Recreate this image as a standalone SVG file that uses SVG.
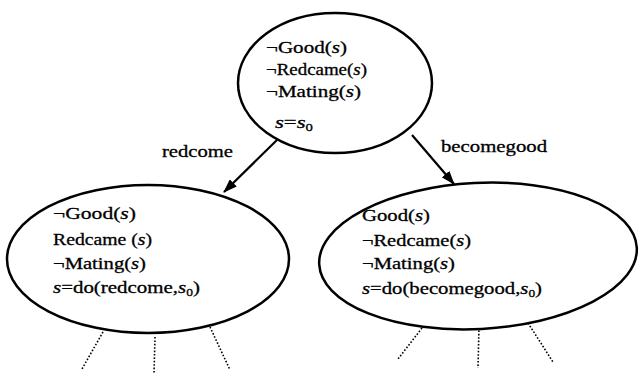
<svg xmlns="http://www.w3.org/2000/svg" width="639" height="375" viewBox="0 0 639 375">
<style>
.node{fill:#fff;stroke:#000;stroke-width:2.5}
.t{font-family:'Liberation Serif','Times New Roman','DejaVu Serif',serif;font-size:17px;fill:#000;stroke:#000;stroke-width:0.3}
.i{font-style:italic}
.sub{font-size:11px}
.edge{stroke:#000;stroke-width:2.2;fill:none}
.dot{stroke:#000;stroke-width:1.6;stroke-dasharray:1.6 1.8;fill:none}
</style>
<defs>
<marker id="ah" viewBox="0 0 14 10" refX="13" refY="5" markerWidth="14" markerHeight="10" markerUnits="userSpaceOnUse" orient="auto">
<path d="M0,0 L14,5 L0,10 Z" fill="#000"/>
</marker>
</defs>
<g id="connectors">
<line class="edge" x1="277" y1="140" x2="224" y2="192" marker-end="url(#ah)"/>
<line class="edge" x1="412" y1="135" x2="454" y2="184" marker-end="url(#ah)"/>
<text class="t" font-family="Liberation Serif" x="162" y="157" textLength="71" lengthAdjust="spacingAndGlyphs">redcome</text>
<text class="t" font-family="Liberation Serif" x="441" y="152" textLength="106" lengthAdjust="spacingAndGlyphs">becomegood</text>
<line class="dot" x1="103" y1="332" x2="82" y2="369"/>
<line class="dot" x1="155" y1="337" x2="154" y2="373"/>
<line class="dot" x1="210" y1="327" x2="230" y2="370"/>
<line class="dot" x1="422" y1="328" x2="398" y2="359"/>
<line class="dot" x1="479" y1="327" x2="478" y2="368"/>
<line class="dot" x1="528" y1="323" x2="553" y2="362"/>
</g>
<g id="n0">
<ellipse class="node" cx="335" cy="83" rx="97" ry="70"/>
<text class="t" x="266" y="53" textLength="81" lengthAdjust="spacingAndGlyphs">¬Good(<tspan class="i">s</tspan>)</text>
<text class="t" x="266" y="75" textLength="101" lengthAdjust="spacingAndGlyphs">¬Redcame(<tspan class="i">s</tspan>)</text>
<text class="t" x="266" y="97" textLength="95" lengthAdjust="spacingAndGlyphs">¬Mating(<tspan class="i">s</tspan>)</text>
<text class="t" x="275" y="128" textLength="38" lengthAdjust="spacingAndGlyphs"><tspan class="i">s</tspan>=<tspan class="i">s</tspan><tspan class="sub" dy="3">0</tspan></text>
</g>
<g id="n1">
<ellipse class="node" cx="148" cy="259" rx="141" ry="74"/>
<text class="t" x="53" y="219" textLength="83" lengthAdjust="spacingAndGlyphs">¬Good(<tspan class="i">s</tspan>)</text>
<text class="t" x="53" y="245" textLength="99" lengthAdjust="spacingAndGlyphs">Redcame (<tspan class="i">s</tspan>)</text>
<text class="t" x="53" y="269" textLength="93" lengthAdjust="spacingAndGlyphs">¬Mating(<tspan class="i">s</tspan>)</text>
<text class="t" x="53" y="293" textLength="147" lengthAdjust="spacingAndGlyphs"><tspan class="i">s</tspan>=do(redcome,<tspan class="i">s</tspan><tspan class="sub" dy="3">0</tspan><tspan dy="-3">)</tspan></text>
</g>
<g id="n2">
<ellipse class="node" cx="478" cy="256" rx="159" ry="73" transform="rotate(-3 478 256)"/>
<text class="t" x="362" y="221" textLength="68" lengthAdjust="spacingAndGlyphs">Good(<tspan class="i">s</tspan>)</text>
<text class="t" x="362" y="246" textLength="109" lengthAdjust="spacingAndGlyphs">¬Redcame(<tspan class="i">s</tspan>)</text>
<text class="t" x="362" y="269" textLength="93" lengthAdjust="spacingAndGlyphs">¬Mating(<tspan class="i">s</tspan>)</text>
<text class="t" x="362" y="294" textLength="180" lengthAdjust="spacingAndGlyphs"><tspan class="i">s</tspan>=do(becomegood,<tspan class="i">s</tspan><tspan class="sub" dy="3">0</tspan><tspan dy="-3">)</tspan></text>
</g>
</svg>
